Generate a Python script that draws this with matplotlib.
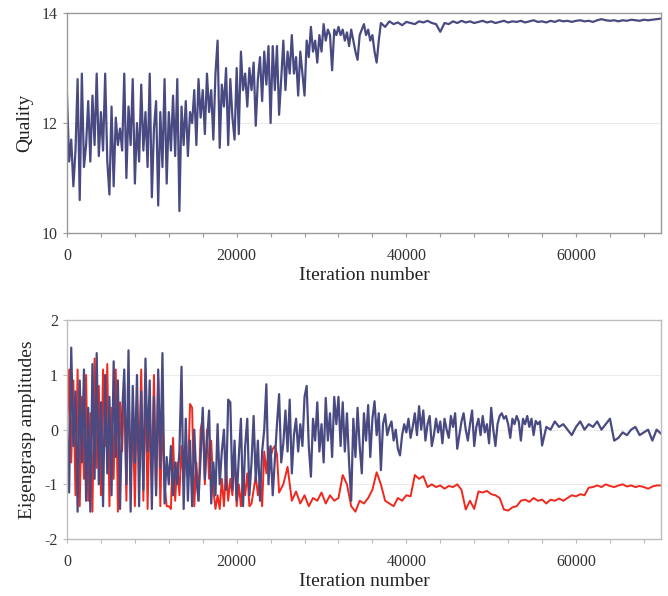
import matplotlib.pyplot as plt
import numpy as np
from matplotlib.ticker import MultipleLocator

# Quality, 0 .. 36750 every 250 iterations
quality_early = [
    12.5, 11.3, 11.7, 10.85, 11.5, 12.8, 10.6, 12.9, 11.2, 11.6, 12.4, 11.3, 12.5, 11.6, 12.9, 11.4,
    12.2, 11.5, 12.9, 11.3, 10.7, 12.3, 10.85, 12.1, 11.6, 11.9, 11.5, 12.9, 11.0, 12.3, 11.6, 12.8,
    10.9, 12.0, 11.3, 12.7, 11.5, 12.2, 11.2, 12.9, 10.65, 11.9, 12.4, 10.5, 12.2, 11.2, 12.8, 10.9,
    12.2, 11.5, 12.5, 11.4, 12.8, 10.4, 12.3, 11.6, 12.4, 11.4, 12.2, 12.0, 12.6, 11.6, 12.8, 12.1,
    12.6, 11.8, 12.9, 12.2, 12.6, 11.7, 12.9, 13.5, 11.55, 12.7, 12.3, 13.0, 11.6, 12.8, 12.1, 11.7,
    13.0, 11.8, 13.3, 12.6, 12.9, 12.3, 13.0, 12.6, 13.1, 11.95, 12.8, 13.2, 12.4, 13.3, 12.7, 13.4,
    12.0, 13.4, 12.6, 13.4, 12.15, 12.8, 13.5, 12.6, 13.3, 12.9, 13.6, 12.9, 13.2, 12.5, 13.3, 12.9,
    12.5, 13.5, 13.2, 13.75, 13.3, 13.5, 13.1, 13.6, 13.3, 13.8, 13.5, 13.7, 13.6, 12.96, 13.7, 13.6,
    13.75, 13.6, 13.7, 13.5, 13.65, 13.4, 13.7, 13.5, 13.3, 13.15, 13.6, 13.7, 13.8, 13.6, 13.7, 13.5,
    13.6, 13.3, 13.1, 13.5,
]
# Quality, 37000 .. 70000 every 500 iterations
quality_late = [
    13.82, 13.75, 13.85, 13.8, 13.83, 13.78, 13.84, 13.82, 13.8, 13.85, 13.83, 13.86, 13.82, 13.8, 13.66, 13.82,
    13.8, 13.85, 13.82, 13.86, 13.83, 13.85, 13.82, 13.84, 13.86, 13.83, 13.85, 13.82, 13.84, 13.86, 13.83, 13.85,
    13.84, 13.86, 13.83, 13.85, 13.87, 13.84, 13.85, 13.83, 13.86, 13.84, 13.87, 13.85, 13.86, 13.84, 13.86, 13.87,
    13.85, 13.86, 13.84, 13.87, 13.89, 13.87, 13.86, 13.87, 13.85, 13.87, 13.86, 13.88, 13.87, 13.86, 13.88, 13.87,
    13.88, 13.89, 13.9,
]

# Eigengrasp amplitude 1 (blue), 0 .. 36750 every 250
amp1_early = [
    0.2, -1.15, 1.5, -0.3, 0.7, -1.5, 0.9, -0.6, 1.1, -1.3, 0.4, -1.5, 1.2, -0.9, 1.4, -1.0,
    0.5, -1.4, 1.0, -0.8, 0.6, -1.2, 1.25, -0.5, 0.9, -1.45, 0.3, 1.1, -1.0, 1.45, -1.5, 0.8,
    -0.6, 1.0, -1.4, 0.7, -1.1, 1.3, -0.4, 0.9, -1.45, 0.6, -1.2, 1.1, -0.7, 1.4, -1.35, -0.5,
    -1.0, -0.3, -1.2, -0.6, -1.0, -0.4, 1.15, -1.45, 0.2, -1.3, -0.2, -1.4, 0.0, -0.9, -1.3, -0.5,
    0.4, -0.9, -0.2, 0.35, -1.35, -0.6, -1.2, 0.1, -1.0, -0.4, 0.0, -1.1, 0.55, 0.5, -1.1, -0.2,
    -1.3, -0.5, 0.2, -1.4, -0.3, 0.2, -1.2, -0.6, 0.25, -0.95, -0.2, -1.3, -0.4, 0.0, 0.83, -1.0,
    -0.3, -1.2, -0.56, 0.1, 0.65, -0.6, -0.25, 0.35, -0.4, 0.55, -0.8, -0.1, 0.2, -0.4, 0.1, -0.3,
    0.6, 0.8, -0.3, -0.86, 0.2, -0.2, 0.5, -0.4, 0.1, -0.6, 0.58, -0.2, 0.3, -0.5, 0.6, 0.1,
    0.6, -0.3, 0.5, -0.4, 0.3, -0.6, -1.3, 0.2, -0.5, 0.4, -0.3, -0.8, 0.3, -0.2, 0.45, -0.5,
    0.2, 0.52, -0.1, 0.3,
]
# amplitude 1, 37000 .. 55750 every 250
amp1_mid = [
    -0.74, 0.1, 0.28, -0.1, 0.05, 0.15, -0.2, 0.0, -0.35, -0.47, -0.1, 0.1, -0.05, 0.2, -0.15, 0.05,
    0.3, -0.1, 0.43, 0.0, 0.35, -0.2, 0.1, 0.25, -0.3, -0.1, 0.2, -0.05, 0.15, -0.25, 0.2, 0.0,
    -0.15, 0.25, 0.05, 0.3, -0.35, -0.1, 0.15, 0.3, 0.0, -0.2, 0.1, 0.35, -0.3, 0.05, 0.2, -0.1,
    0.25, -0.05, 0.1, -0.25, 0.4, 0.0, -0.3, 0.1, 0.25, 0.3, 0.2, 0.25, 0.1, -0.15, 0.2, 0.1,
    0.25, 0.15, -0.2, 0.2, 0.1, 0.25, 0.05, 0.2, -0.1, 0.16, 0.1, 0.15,
]
# amplitude 1, 56000 .. 70000 every 500
amp1_late = [
    -0.29, 0.05, 0.0, 0.15, 0.05, 0.1, 0.0, -0.1, 0.05, 0.15,
    0.0, 0.1, 0.05, 0.15, 0.0, 0.1, 0.2, -0.2, -0.15, -0.05,
    -0.1, 0.0, 0.05, -0.1, -0.05, 0.0, -0.2, 0.0, -0.07,
]

# Eigengrasp amplitude 2 (red), 0 .. 24750 every 250
amp2_early = [
    -0.2, 1.1, -0.6, 0.9, -1.2, 1.1, -1.4, 0.6, -0.9, 1.0, -1.3, 0.3, -1.5, 1.3, -0.7, 0.8,
    -1.2, 1.1, -0.3, 1.2, -1.4, 0.4, -0.9, 1.1, -1.5, 0.5, -0.4, 0.85, -1.3, 0.9, -1.0, 0.3,
    -1.4, 0.6, -0.6, 1.1, -1.3, 0.9, -1.45, 0.4, -0.9, 1.0, -1.2, 0.95, -1.4, 0.3, -1.0, -1.4,
    -1.4, -1.45, -0.15, -1.3, -0.6, -1.2, -0.3, -1.0, -0.4, -0.9, 0.47, 0.4, -1.4, -0.6, -1.3, 0.0,
    0.22, -1.0, 0.0, -0.9, -0.2, -1.1, -1.45, -1.2, -1.45, -0.9, -1.4, -0.7, -1.3, -0.9, -1.2, -0.44,
    -1.4, -1.0, -1.4, -0.8, -1.2, -0.8, -1.4, -1.35, -1.1, -0.85, -1.2, -0.9, -1.4, -0.4, -0.8, -0.32,
    -0.5, -0.35, -0.3, -0.45,
]
# amplitude 2, 25000 .. 70000 every 500
amp2_late = [
    -1.15, -1.0, -0.68, -1.3, -1.13, -1.35, -1.2, -1.4, -1.25, -1.3, -1.15, -1.35, -1.2, -1.3, -1.25, -0.83,
    -1.0, -1.4, -1.5, -1.3, -1.35, -1.25, -1.1, -0.78, -1.0, -1.3, -1.35, -1.4, -1.25, -1.3, -1.2, -1.22,
    -0.83, -0.9, -0.85, -1.05, -1.0, -1.05, -1.02, -1.08, -1.03, -1.05, -1.0, -1.1, -1.46, -1.3, -1.45, -1.13,
    -1.15, -1.12, -1.18, -1.2, -1.25, -1.46, -1.48, -1.42, -1.4, -1.3, -1.28, -1.32, -1.25, -1.3, -1.28, -1.35,
    -1.28, -1.3, -1.26, -1.3, -1.25, -1.2, -1.22, -1.18, -1.2, -1.06, -1.05, -1.02, -1.05, -1.0, -1.03, -1.05,
    -1.02, -1.0, -1.04, -1.02, -1.05, -1.03, -1.05, -1.08, -1.04, -1.02, -1.02,
]


# each segment: (first iteration, sampling step, values)
def series(*segments):
    xs, ys = [], []
    for start, step, vals in segments:
        xs.append(start + np.arange(len(vals)) * step)
        ys.append(np.array(vals))
    return np.concatenate(xs), np.concatenate(ys)


def style_axes(ax, ymin, ymax, ymajor, grid_vals, spine_col):
    ax.set_xlim(0, 70000)
    ax.set_ylim(ymin, ymax)
    ax.xaxis.set_major_locator(MultipleLocator(20000))
    ax.xaxis.set_minor_locator(MultipleLocator(4000))
    ax.yaxis.set_major_locator(MultipleLocator(ymajor))
    ax.tick_params(which="both", direction="out", colors=spine_col, labelcolor="#333333",
                   labelsize=11.5, length=3, width=0.8)
    ax.tick_params(axis="x", pad=8)
    for s in ax.spines.values():
        s.set_color(spine_col)
        s.set_linewidth(1.0)
    for g in grid_vals:
        ax.axhline(g, color="#ececec", lw=0.8, zorder=0)
    ax.set_xlabel("Iteration number", fontsize=14, color="#222222", labelpad=2)


plt.rcParams["font.family"] = ["Liberation Serif", "DejaVu Serif"]
plt.rcParams["axes.unicode_minus"] = False

fig = plt.figure(figsize=(6.68, 5.96), dpi=100)
ax1 = fig.add_axes([0.1003, 0.609, 0.889, 0.369])
ax2 = fig.add_axes([0.1003, 0.0956, 0.889, 0.367])

xq, q = series((0, 250, quality_early), (37000, 500, quality_late))
ax1.plot(xq, q, color="#4a4a82", lw=1.6)
style_axes(ax1, 10, 14, 2, [12], "#9a9a9a")
ax1.set_ylabel("Quality", fontsize=14, color="#222222", labelpad=6)

xr, r = series((0, 250, amp2_early), (25000, 500, amp2_late))
xb, b = series((0, 250, amp1_early), (37000, 250, amp1_mid), (56000, 500, amp1_late))
ax2.plot(xr, r, color="#f0281e", lw=1.4)
ax2.plot(xb, b, color="#4a4a82", lw=1.6)
style_axes(ax2, -2, 2, 1, [-1, 0, 1], "#bdbdbd")
ax2.set_ylabel("Eigengrasp amplitudes", fontsize=14, color="#222222", labelpad=6)

fig.savefig("out.png", dpi=100, facecolor="white")
